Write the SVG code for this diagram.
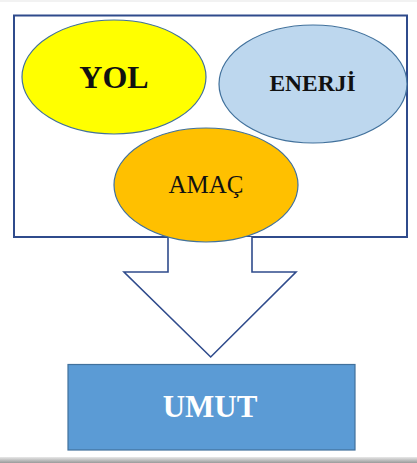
<svg xmlns="http://www.w3.org/2000/svg" width="417" height="463" viewBox="0 0 417 463">
  <defs>
    <style>
      .frame { fill: #FFFFFF; stroke: #2F4B8C; stroke-width: 2; }
      .ell { stroke: #41719C; stroke-width: 1.2; }
      .lbl { font-family: "Liberation Serif", "Times New Roman", serif; text-anchor: middle; fill: #111111; }
      .arrow { fill: #FFFFFF; stroke: #2F4B8C; stroke-width: 1.6; stroke-linejoin: miter; }
    </style>
    <linearGradient id="shadow" x1="0" y1="0" x2="0" y2="1">
      <stop offset="0" stop-color="#E8E8E8"/>
      <stop offset="1" stop-color="#9A9A9A"/>
    </linearGradient>
  </defs>
  <rect x="0" y="0" width="417" height="463" fill="#FFFFFF"/>
  <rect x="0" y="457" width="417" height="6" fill="url(#shadow)"/>
  <rect x="0" y="0" width="417" height="2" fill="#F2F2F2"/>

  <g id="frame">
    <rect class="frame" x="14" y="15.5" width="393" height="221.5"/>
  </g>

  <g id="connectors">
    <path class="arrow" d="M168,237 L168,272 L124,272 L210.7,357 L296,272 L252,272 L252,237"/>
  </g>

  <g id="node-yol">
    <ellipse class="ell" cx="114" cy="77" rx="92" ry="57" fill="#FFFF00"/>
    <text class="lbl" x="114" y="88" font-size="32" font-weight="bold">YOL</text>
  </g>

  <g id="node-enerji">
    <ellipse class="ell" cx="313" cy="84" rx="94" ry="59" fill="#BDD7EE"/>
    <text class="lbl" x="312.5" y="91" font-size="23.5" font-weight="bold">ENERJİ</text>
  </g>

  <g id="node-amac">
    <ellipse class="ell" cx="206" cy="185" rx="92" ry="57" fill="#FFC000"/>
    <text class="lbl" x="206" y="193" font-size="25">AMAÇ</text>
  </g>

  <g id="node-umut">
    <rect x="68" y="364.5" width="287" height="85.5" fill="#5B9BD5" stroke="#41719C" stroke-width="1.2"/>
    <text class="lbl" x="210" y="417" font-size="31" font-weight="bold" style="fill:#FFFFFF">UMUT</text>
  </g>
</svg>
